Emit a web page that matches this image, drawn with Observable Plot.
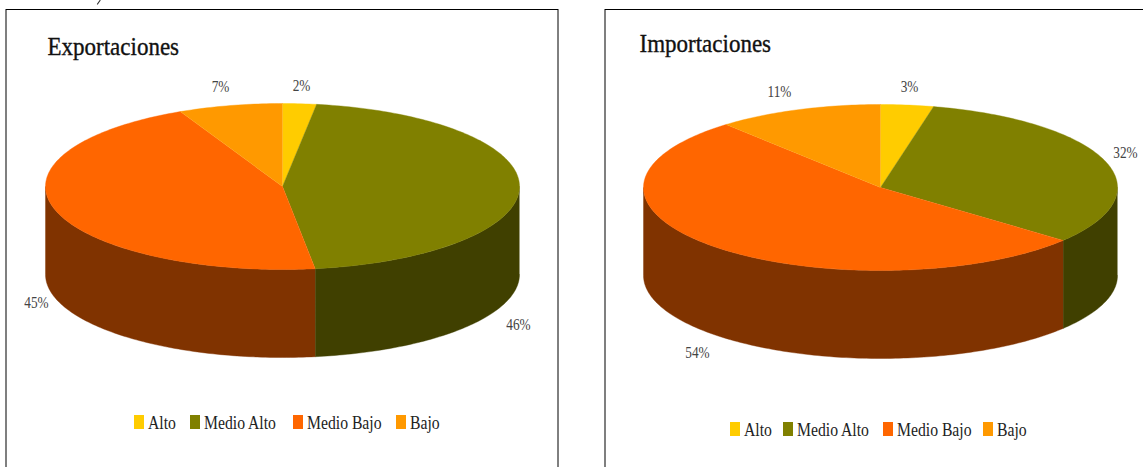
<!DOCTYPE html>
<html>
<head>
<meta charset="utf-8">
<script src="https://cdn.jsdelivr.net/npm/d3@7"></script>
<script src="https://cdn.jsdelivr.net/npm/@observablehq/plot@0.6"></script>
<style>
html,body{margin:0;padding:0;background:#fff;overflow:hidden}
</style>
</head>
<body>
<div id="chart"></div>
<script>
const categories = ["Alto", "Medio Alto", "Medio Bajo", "Bajo"];
const topColors = ["#FFCC00", "#808000", "#FF6600", "#FF9900"];
const sideColors = ["#806600", "#404000", "#803300", "#804D00"];

const exportShares = [2.3, 45.5, 45.1, 7.1];
const exportLabels = ["2%", "46%", "45%", "7%"];
const importShares = [3.6, 32.4, 52.7, 11.3];
const importLabels = ["3%", "32%", "54%", "11%"];

const W = 1143, H = 467;
const RX = 237, RY = 83, DEPTH = 88;

const panels = [
  {title: "Exportaciones", shares: exportShares, labels: exportLabels,
   cx: 282, cy: 186, frame: [6, 558], titlePos: [47, 54],
   labelPos: [[301, 85], [518, 324], [36, 302], [220, 86]],
   swatchX: [134, 190, 293, 396], legendY: 415},
  {title: "Importaciones", shares: importShares, labels: importLabels,
   cx: 880, cy: 187, frame: [605, 1200], titlePos: [639, 51],
   labelPos: [[909, 86], [1125, 152], [697, 352], [779, 91]],
   swatchX: [730, 783, 883, 983], legendY: 422}
];

const topPts = [], sidePts = [], frames = [], titles = [], pctLabels = [], swatches = [], legendText = [];

panels.forEach((p, pi) => {
  const pt = (deg, dy = 0) => {
    const a = deg * Math.PI / 180;
    return {x: p.cx + RX * Math.sin(a), y: p.cy - RY * Math.cos(a) + dy};
  };
  let cum = 0;
  p.shares.forEach((s, i) => {
    const a0 = cum * 3.6, a1 = (cum + s) * 3.6;
    cum += s;
    const key = pi + "-" + i;
    const n = Math.max(2, Math.ceil(a1 - a0));
    const top = [{x: p.cx, y: p.cy}];
    for (let k = 0; k <= n; k++) top.push(pt(a0 + (a1 - a0) * k / n));
    top.forEach(q => topPts.push({...q, key, cat: categories[i], fill: topColors[i]}));
    const b0 = Math.max(a0, 90), b1 = Math.min(a1, 270);
    if (b1 > b0) {
      const m = Math.max(2, Math.ceil(b1 - b0));
      const upper = [], lower = [];
      for (let k = 0; k <= m; k++) {
        const d = b0 + (b1 - b0) * k / m;
        upper.push(pt(d));
        lower.push(pt(d, DEPTH));
      }
      [...upper, ...lower.reverse()].forEach(q => sidePts.push({...q, key, fill: sideColors[i]}));
    }
    pctLabels.push({x: p.labelPos[i][0], y: p.labelPos[i][1], text: p.labels[i]});
    swatches.push({x1: p.swatchX[i], x2: p.swatchX[i] + 10, y1: p.legendY, y2: p.legendY + 14, fill: topColors[i]});
    legendText.push({x: p.swatchX[i] + 13.5, y: p.legendY + 13, text: categories[i]});
  });
  frames.push({x1: p.frame[0], x2: p.frame[1], y1: 9.5, y2: 500});
  titles.push({x: p.titlePos[0], y: p.titlePos[1], text: p.title});
});

// Sliver of a glyph from text cropped off above the picture's top edge.
const croppedSliver = [{x: 99.5, y: 0}, {x: 97, y: 3.5}];

const FONT = "'Liberation Serif','Times New Roman',serif";

const chart = Plot.plot({
  width: W, height: H,
  margin: 0,
  x: {domain: [0, W], range: [0, W], axis: null},
  y: {domain: [0, H], range: [0, H], axis: null},
  style: {fontFamily: FONT, background: "#fff"},
  marks: [
    Plot.rect(frames, {x1: "x1", x2: "x2", y1: "y1", y2: "y2", fill: "#fff", stroke: "#000", strokeWidth: 1}),
    Plot.line(sidePts, {x: "x", y: "y", z: "key", fill: "fill", stroke: "fill", strokeWidth: 0.4, curve: "linear"}),
    Plot.line(topPts, {x: "x", y: "y", z: "key", fill: "fill", stroke: "fill", strokeWidth: 0.4, curve: "linear"}),
    Plot.text(titles, {x: "x", y: "y", text: "text", textAnchor: "start", lineAnchor: "bottom", fontSize: 25, fill: "#111", stroke: "#111", strokeWidth: 0.35, className: "cond-title"}),
    Plot.text(pctLabels, {x: "x", y: "y", text: "text", fontSize: 16, fill: "#444", textAnchor: "middle", lineAnchor: "middle", className: "cond-pct"}),
    Plot.rect(swatches, {x1: "x1", x2: "x2", y1: "y1", y2: "y2", fill: "fill"}),
    Plot.text(legendText, {x: "x", y: "y", text: "text", fontSize: 19, fill: "#222", textAnchor: "start", lineAnchor: "bottom", className: "cond-legend"}),
    Plot.line(croppedSliver, {x: "x", y: "y", stroke: "#333", strokeWidth: 1.2})
  ]
});
document.getElementById("chart").appendChild(chart);

// The reference's typeface is narrower than any installed serif: condense the glyphs.
[[".cond-title", 0.92], [".cond-pct", 0.83], [".cond-legend", 0.826]].forEach(([sel, k]) => {
  chart.querySelectorAll(sel + " text").forEach(t => {
    t.setAttribute("textLength", t.getComputedTextLength() * k);
    t.setAttribute("lengthAdjust", "spacingAndGlyphs");
  });
});
</script>
</body>
</html>
